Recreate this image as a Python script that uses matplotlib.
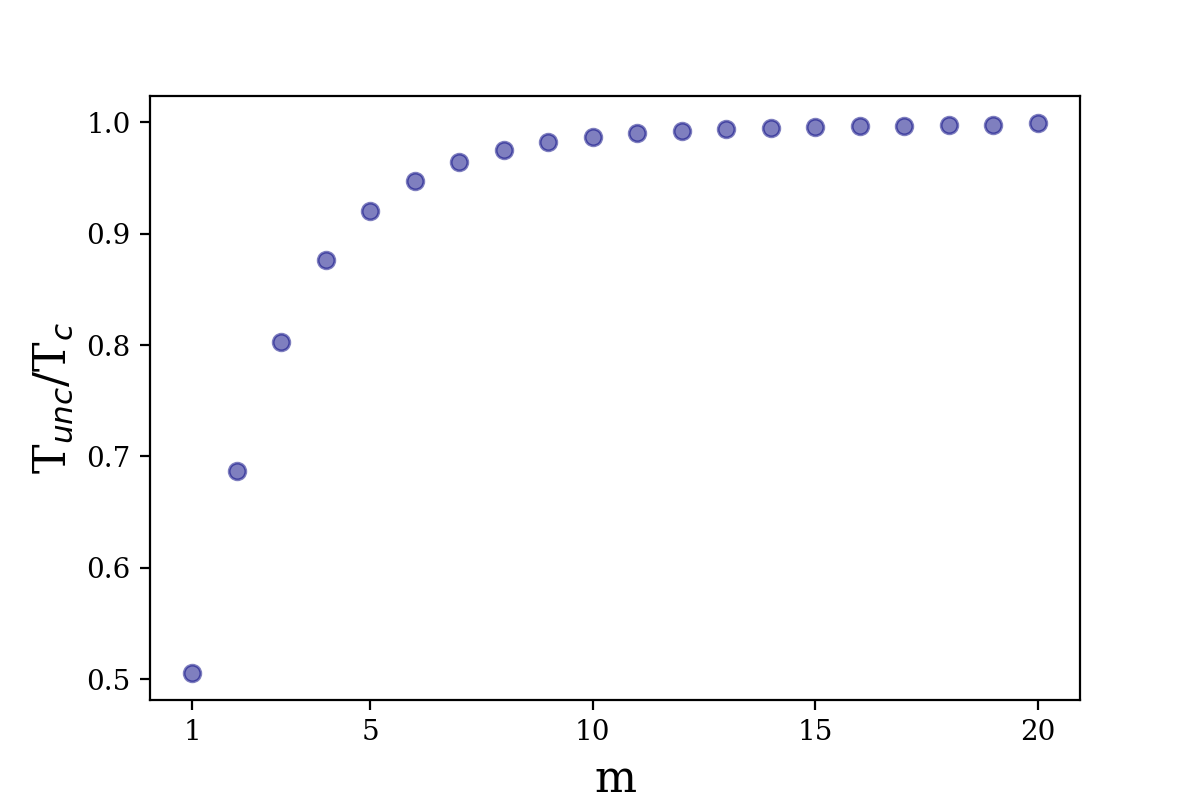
import matplotlib
matplotlib.use('Agg')
import matplotlib.pyplot as plt
import numpy as np

plt.rcParams['font.family'] = 'serif'

# T_unc / T_c for each m
m_values = [1, 2, 3, 4, 5, 6, 7, 8, 9, 10, 11, 12, 13, 14, 15, 16, 17, 18, 19, 20]
ratio = [0.506, 0.687, 0.803, 0.876, 0.920, 0.947, 0.964, 0.975, 0.982, 0.987,
         0.990, 0.992, 0.994, 0.995, 0.996, 0.997, 0.997, 0.998, 0.998, 0.999]
x_ticks = [1, 5, 10, 15, 20]

fig, ax = plt.subplots(figsize=(6, 4), dpi=200)
fig.subplots_adjust(left=0.125, right=0.9, top=0.88, bottom=0.125)

ax.scatter(m_values, ratio, color='navy', alpha=0.5)
ax.set_xticks(x_ticks)
ax.set_xlabel('m', fontsize=16)
ax.set_ylabel('T$_{unc}$/T$_c$', fontsize=16)

plt.savefig('out.png', dpi=200)
